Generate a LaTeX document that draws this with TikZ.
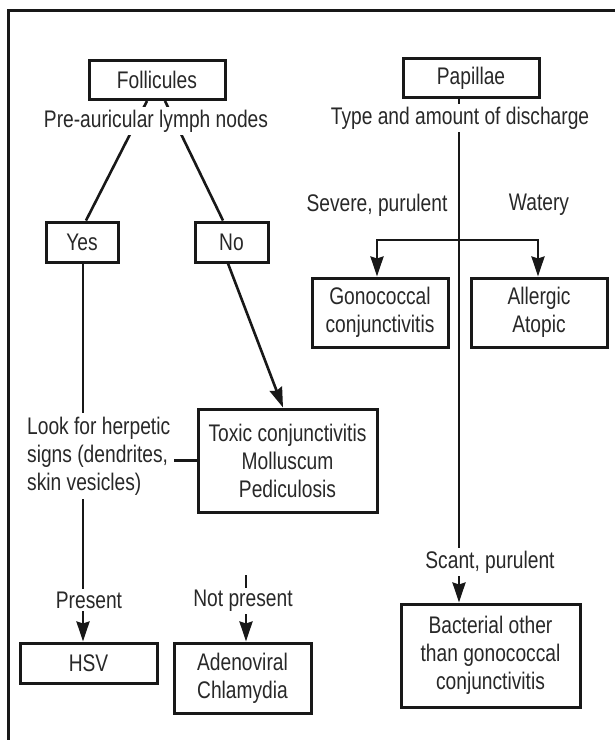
\documentclass[tikz,border=0pt]{standalone}
\usepackage{fontspec}
\setmainfont{Liberation Sans}[FakeStretch=0.8]
\usetikzlibrary{arrows.meta}
\definecolor{ink}{RGB}{24,24,24}
\definecolor{txt}{RGB}{40,40,40}
\begin{document}
\begin{tikzpicture}[x=1pt,y=-1pt,
  font=\fontsize{24}{28}\selectfont,
  box/.style={draw=ink, line width=3pt, rectangle, inner sep=0pt, align=center, text=txt},
  lbl/.style={fill=white, inner sep=2.5pt, text=txt, align=center},
  conn/.style={draw=ink, line width=2.6pt},
  arr/.style={conn, -{Stealth[length=20pt,width=13pt,inset=2pt]}}]
\useasboundingbox (0,0) rectangle (615,740);
\fill[white] (0,0) rectangle (615,740);
\draw[ink, line width=3pt] (8,740) -- (8,10) -- (615,10);

% boxes
\node[box, minimum width=136pt, minimum height=39pt] (foll) at (157,80) {Follicules};
\node[box, minimum width=136pt, minimum height=39pt] (pap) at (471,78) {Papillae};
\node[box, minimum width=72pt, minimum height=40pt] (yes) at (82,242) {Yes};
\node[box, minimum width=73pt, minimum height=40pt] (no) at (231.5,242) {No};
\node[box, minimum width=136pt, minimum height=69pt] (gono) at (380,312.5) {Gonococcal\\conjunctivitis};
\node[box, minimum width=136pt, minimum height=69pt] (allg) at (539,312.5) {Allergic\\Atopic};
\node[box, minimum width=179pt, minimum height=103pt] (toxic) at (287.5,460.5) {Toxic conjunctivitis\\Molluscum\\Pediculosis};
\node[box, minimum width=137pt, minimum height=40pt] (hsv) at (88.5,663) {HSV};
\node[box, minimum width=137pt, minimum height=70pt] (adeno) at (242.5,678) {Adenoviral\\Chlamydia};
\node[box, minimum width=179pt, minimum height=103pt] (bact) at (490.5,655.5) {Bacterial other\\than gonococcal\\conjunctivitis};

% connectors (drawn under the labels)
\draw[conn] ([xshift=-10pt]foll.south) -- ([xshift=4pt]yes.north);
\draw[conn] ([xshift=8pt]foll.south) -- ([xshift=-8.5pt]no.north);
\draw[arr] ([xshift=-3.5pt]no.south) -- ([xshift=-4.5pt]toxic.north);
\draw[arr] ([xshift=1pt]yes.south) -- ([xshift=1pt]yes.south |- hsv.north);
\coordinate (np) at (246,575);
\draw[arr] (np) -- (np |- adeno.north);
\draw[arr] ([xshift=-12pt]pap.south) -- ([xshift=-12pt]pap.south |- bact.north);
\coordinate (br) at (459,240);
\draw[arr] (br) -| ([xshift=-3pt]gono.north);
\draw[arr] (br) -| ([xshift=-1pt]allg.north);

% labels
\node[lbl] (pal) at (156,121) {Pre-auricular lymph nodes};
\node[lbl] (tad) at (460,118) {Type and amount of discharge};
\node[lbl] (sev) at (377,205) {Severe, purulent};
\node[lbl] (wat) at (539,205) {Watery};
\node[lbl, align=left, anchor=west, inner sep=4pt] (herp) at (23,456) {Look for herpetic\\signs (dendrites,\\skin vesicles)};
\draw[conn] (toxic.west) -- (herp.east |- toxic.west);
\node[lbl] (pres) at (89,600) {Present};
\node[lbl] (npres) at (243,601) {Not present};
\node[lbl] (scant) at (490,562) {Scant, purulent};
\end{tikzpicture}
\end{document}
